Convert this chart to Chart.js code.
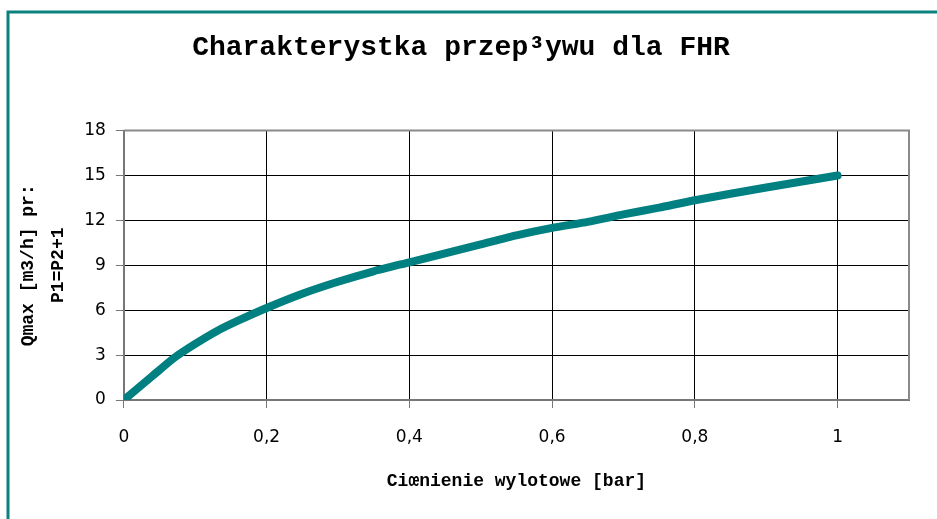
<!DOCTYPE html>
<html>
<head>
<meta charset="utf-8">
<script src="https://cdn.jsdelivr.net/npm/chart.js@4/dist/chart.umd.min.js"></script>
<style>
    html, body { margin: 0; padding: 0; background: #fff; }
    #wrap { position: relative; width: 937px; height: 519px; }
</style>
</head>
<body>
<div id="wrap"><canvas id="chart"></canvas></div>
<script>
let cisnienie = [0, 0.02, 0.04, 0.07, 0.1, 0.13, 0.16, 0.2, 0.25, 0.3, 0.35, 0.4, 0.45, 0.5, 0.55, 0.6, 0.65, 0.7, 0.75, 0.8, 0.9, 1.0]
let przeplyw = [0, 0.8, 1.6, 2.8, 3.75, 4.6, 5.3, 6.15, 7.1, 7.9, 8.6, 9.2, 9.8, 10.4, 11.0, 11.5, 11.9, 12.4, 12.85, 13.35, 14.2, 15.0]
let xTicks = [0, 0.2, 0.4, 0.6, 0.8, 1]
let yTicks = [0, 3, 6, 9, 12, 15, 18]

let tytul = 'Charakterystka przep³ywu dla FHR'
let tytulX = 'Ciœnienie wylotowe [bar]'
let tytulY = ['Qmax [m3/h] pr:', 'P1=P2+1']

let teal = '#008080'

const ramka = {
    id: 'ramka',
    beforeDraw(chart) {
        const ctx = chart.ctx
        ctx.save()
        ctx.strokeStyle = '#0b827d'
        ctx.lineWidth = 3
        ctx.beginPath()
        ctx.moveTo(8, 519)
        ctx.lineTo(8, 12)
        ctx.lineTo(937, 12)
        ctx.stroke()
        ctx.restore()
    },
    beforeDatasetsDraw(chart) {
        const a = chart.chartArea
        const ctx = chart.ctx
        ctx.save()
        ctx.strokeStyle = '#8a8a8a'
        ctx.lineWidth = 2
        ctx.beginPath()
        ctx.moveTo(a.left, a.top)
        ctx.lineTo(a.right, a.top)
        ctx.lineTo(a.right, a.bottom)
        ctx.stroke()
        ctx.restore()
    }
}

new Chart(document.getElementById('chart'), {
    type: 'line',
    data: {
        datasets: [{
            data: cisnienie.map((x, i) => ({ x: x, y: przeplyw[i] })),
            borderColor: teal,
            backgroundColor: teal,
            borderWidth: 8,
            borderCapStyle: 'round',
            borderJoinStyle: 'round',
            pointRadius: 0,
            tension: 0.2,
            fill: false
        }]
    },
    options: {
        responsive: true,
        maintainAspectRatio: false,
        animation: false,
        layout: { padding: { left: 13, right: 28, top: 22, bottom: 27 } },
        plugins: {
            legend: { display: false },
            tooltip: { enabled: false },
            title: {
                display: true,
                text: tytul,
                color: '#000',
                font: { family: 'Liberation Mono', size: 28, weight: 'bold' },
                padding: { top: 9, bottom: 66 }
            }
        },
        scales: {
            x: {
                type: 'linear',
                min: 0,
                max: 1.1,
                afterBuildTicks: axis => { axis.ticks = xTicks.map(v => ({ value: v })) },
                ticks: {
                    color: '#000',
                    font: { family: 'DejaVu Sans', size: 17 },
                    padding: 19,
                    callback: v => String(v).replace('.', ',')
                },
                grid: { color: '#000', lineWidth: 1, tickLength: 8, tickColor: '#777' },
                border: { color: '#777', width: 2 },
                title: {
                    display: true,
                    text: tytulX,
                    color: '#000',
                    font: { family: 'Liberation Mono', size: 18, weight: 'bold' },
                    padding: { top: 4, bottom: 0 }
                }
            },
            y: {
                min: 0,
                max: 18,
                afterBuildTicks: axis => { axis.ticks = yTicks.map(v => ({ value: v })) },
                ticks: {
                    color: '#000',
                    font: { family: 'DejaVu Sans', size: 17 },
                    padding: 10
                },
                grid: { color: '#000', lineWidth: 1, tickLength: 8, tickColor: '#777' },
                border: { color: '#777', width: 2 },
                title: {
                    display: true,
                    text: tytulY,
                    color: '#000',
                    font: { family: 'Liberation Mono', size: 18, weight: 'bold', lineHeight: 1.7 },
                    padding: { top: 0, bottom: 0 }
                }
            }
        }
    },
    plugins: [ramka]
})
</script>
</body>
</html>
